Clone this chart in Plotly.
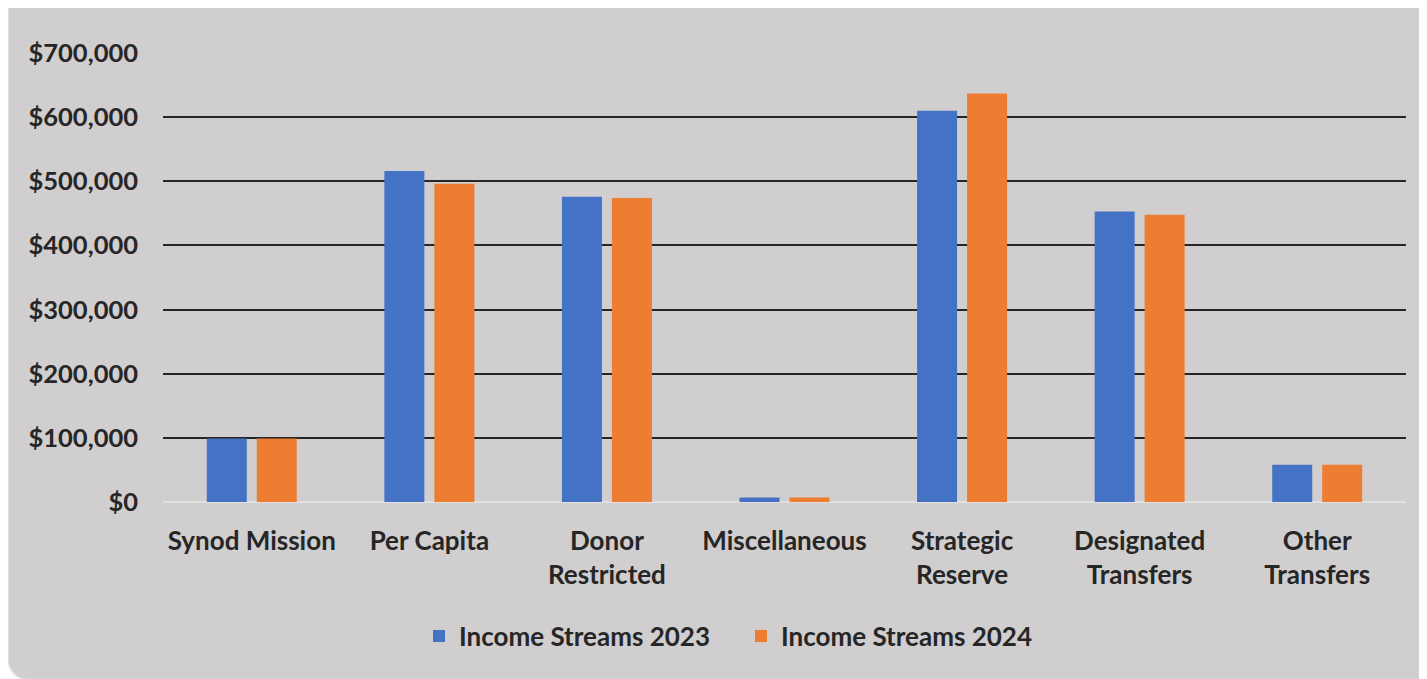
import plotly.graph_objects as go

categories = ["Synod Mission", "Per Capita", "Donor<br>Restricted", "Miscellaneous",
              "Strategic<br>Reserve", "Designated<br>Transfers", "Other<br>Transfers"]
income_2023 = [99000, 516000, 476000, 7000, 610000, 453000, 58000]
income_2024 = [99000, 496000, 474000, 7000, 637000, 448000, 58000]
series_names = ["Income Streams 2023", "Income Streams 2024"]
y_tickvals = [0, 100000, 200000, 300000, 400000, 500000, 600000, 700000]

# figure sits at (8, 8) on the page because of the default body margin
W, H = 1419, 671
L, R, T, B = 155, 21, 45, 177
pw, ph = W - L - R, H - T - B

def px(x):
    return (x - L) / pw

def py(y):
    return (H - B - y) / ph

# rounded gray panel (bottom-left corner rounded)
x0, x1, y0, y1, r = 0, 1440, -2, 672, 24
path = (f"M {px(x0)},{py(y0)} L {px(x1)},{py(y0)} L {px(x1)},{py(y1)} "
        f"L {px(x0 + r)},{py(y1)} Q {px(x0)},{py(y1)} {px(x0)},{py(y1 - r)} Z")

FAM = "Lato, Carlito, Open Sans, sans-serif"
ytick_font = dict(family=FAM, size=25.5, color="#262626", weight="bold")
xtick_font = dict(family=FAM, size=26, color="#262626", weight="bold")
legend_font = dict(family=FAM, size=26, color="#262626", weight="bold")

fig = go.Figure()
fig.add_trace(go.Bar(x=categories, y=income_2023, name=series_names[0],
                     marker=dict(color="#4472C4", line=dict(width=0))))
fig.add_trace(go.Bar(x=categories, y=income_2024, name=series_names[1],
                     marker=dict(color="#ED7D31", line=dict(width=0))))

fig.update_layout(
    width=W, height=H,
    margin=dict(l=L, r=R, t=T, b=B, autoexpand=False),
    paper_bgcolor="white",
    plot_bgcolor="rgba(0,0,0,0)",
    barmode="group",
    bargap=0.437,
    bargroupgap=0.2,
    font=xtick_font,
    showlegend=True,
    legend=dict(orientation="h", x=px(411), xanchor="left", y=py(628), yanchor="middle",
                font=legend_font, bgcolor="rgba(0,0,0,0)", entrywidth=277),
    shapes=[dict(type="path", path=path, xref="paper", yref="paper", layer="below",
                 fillcolor="#D0CECE", line=dict(color="#E2E2E2", width=1.5))],
    xaxis=dict(showgrid=False, showline=False, ticks="", tickfont=xtick_font,
               ticklabelstandoff=21, fixedrange=True),
    yaxis=dict(range=[0, 700000], tickvals=y_tickvals, tickformat="$,.0f",
               showgrid=True, gridcolor="#262626", gridwidth=2,
               zeroline=True, zerolinecolor="#E0E0E0", zerolinewidth=2,
               showline=False, ticks="", tickfont=ytick_font, ticklabelstandoff=24,
               fixedrange=True),
)

fig.write_html("out.html")
